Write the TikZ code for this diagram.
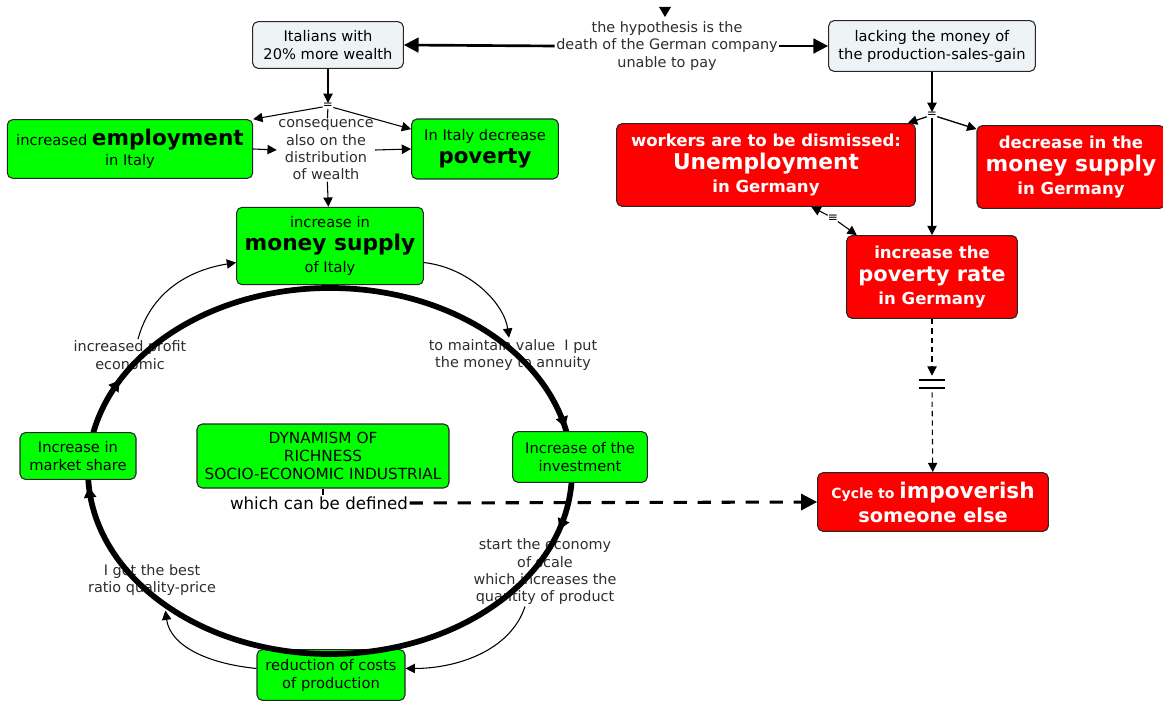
\documentclass[tikz,border=0pt]{standalone}
\usepackage{fontspec}
\setmainfont{DejaVu Sans}
\usetikzlibrary{arrows.meta,decorations.markings}
\definecolor{cmgreen}{RGB}{0,255,0}
\definecolor{cmred}{RGB}{255,0,0}
\definecolor{cmgrey}{RGB}{238,243,246}
\definecolor{cmtext}{RGB}{45,45,45}

\begin{document}
\begin{tikzpicture}[x=0.75pt,y=-0.75pt,>={Triangle[length=7pt,width=7pt]},ringtip/.tip={Triangle[length=8pt,width=9pt]}]
      \tikzstyle{box}=[draw=black!85,line width=0.8pt,rounded corners=4pt,align=center,inner sep=2pt,font=\fontsize{11}{13.5}\selectfont]
      \tikzstyle{greybox}=[box,fill=cmgrey]
      \tikzstyle{greenbox}=[box,fill=cmgreen]
      \tikzstyle{redbox}=[box,fill=cmred,text=white,font=\fontsize{12.4}{17.5}\selectfont\bfseries]
      \tikzstyle{lbl}=[align=center,text=cmtext,inner sep=1pt,font=\fontsize{10.8}{13}\selectfont]
      \tikzstyle{junc}=[inner sep=0pt,font=\fontsize{9}{9}\selectfont]
      \tikzstyle{link}=[->,line width=0.8pt]
      \tikzstyle{bigtip}=[-{Triangle[length=11pt,width=11pt]},line width=2pt]
      \useasboundingbox (0,0) rectangle (1163,702);
      % top row
      \node[greybox,minimum width=113pt,minimum height=35pt] (It_wealth) at (328,45) {Italians with\\20\% more wealth};
      \node[lbl] (Hyp) at (667,46) {the hypothesis is the\\death of the German company\\unable to pay};
      \node[greybox,minimum width=155pt,minimum height=38pt] (De_lack) at (932,46) {lacking the money of\\the production-sales-gain};
      \fill (659,7) -- (671,7) -- (665,17) -- cycle;
      \draw[bigtip] (Hyp.west) -- (It_wealth.east);
      \draw[bigtip] (Hyp.east) -- (De_lack.west);
      % Italy
      \node[junc] (It_eq) at (328,106) {=};
      \node[greenbox,minimum width=184pt,minimum height=44pt,font=\fontsize{11}{15}\selectfont] (It_employ) at (130,149) {increased {\fontsize{16.2}{17}\selectfont\bfseries employment}\\in Italy};
      \node[lbl] (It_conseq) at (326,150) {consequence\\also on the\\distribution\\of wealth};
      \node[greenbox,minimum width=110pt,minimum height=45pt,font=\fontsize{11}{17}\selectfont] (It_poverty) at (485,149) {In Italy decrease\\{\fontsize{16}{17}\selectfont\bfseries poverty}};
      \node[greenbox,minimum width=140pt,minimum height=58pt,font=\fontsize{11}{17}\selectfont] (It_money) at (330,246) {increase in\\{\fontsize{16.3}{18}\selectfont\bfseries money supply}\\of Italy};
      \draw[link] (It_wealth) -- (It_eq);
      \draw[link] (It_eq) -- (It_employ.north east);
      \draw[link] (It_eq) -- ([yshift=-8pt]It_poverty.north west);
      \draw[line width=0.8pt] (It_eq) -- (It_conseq);
      \draw[link] (It_employ.east) -- (It_conseq.west);
      \draw[link] (It_conseq.east) -- (It_poverty.west);
      \draw[link] (It_conseq) -- (It_money);
      % the cycle
      \node[greenbox,minimum width=111pt,minimum height=38pt] (It_reduce) at (331,675) {reduction of costs\\of production};
      \node[lbl] (Lb_profit) at (130,355) {increased profit\\economic};
      \node[lbl] (Lb_value) at (513,355) {to maintain value~ I put\\the money to annuity};
      \node[lbl] (Lb_scale) at (545,572) {start the economy\\of scale\\which increases the\\quantity of product};
      \node[lbl] (Lb_ratio) at (152,580) {I got the best\\ratio quality-price};
      \draw[line width=4.3pt,postaction={decorate},decoration={markings,
            mark=at position 0.045 with {\arrow{ringtip}},
            mark=at position 0.488 with {\arrow{ringtip}},
            mark=at position 0.573 with {\arrow{ringtip}},
            mark=at position 0.967 with {\arrow{ringtip}}}]
            (330,471) ellipse [x radius=242,y radius=183];
      \node[greenbox,minimum width=87pt,minimum height=35pt] (It_market) at (78,456) {Increase in\\market share};
      \node[greenbox,minimum width=101pt,minimum height=38pt] (It_invest) at (580,457) {Increase of the\\investment};
      \node[greenbox,minimum width=189pt,minimum height=48pt,font=\fontsize{11.5}{13.5}\selectfont] (Dyn) at (323,456) {DYNAMISM OF\\RICHNESS\\SOCIO-ECONOMIC INDUSTRIAL};
      \node[lbl,text=black,font=\fontsize{12.5}{14}\selectfont] (Lb_defined) at (319,503) {which can be defined};
      \draw[link] (It_money.-10) .. controls +(45,5) and +(-5,-35) .. ([xshift=-3pt]Lb_value.north);
      \draw[link] ([xshift=6pt]Lb_profit.north) .. controls +(12,-45) and +(-50,8) .. (It_money.190);
      \draw[link] ([xshift=-15pt]Lb_scale.south) .. controls +(-15,45) and +(50,0) .. (It_reduce.5);
      \draw[link] (It_reduce.175) .. controls +(-50,-5) and +(5,35) .. ([xshift=10pt,yshift=-10pt]Lb_ratio.south);
      \draw[line width=1.6pt] (Dyn.south) -- (Dyn.south |- Lb_defined.north);
      % Germany
      \node[junc] (De_eq) at (932,115) {=};
      \node[redbox,minimum width=224pt,minimum height=62pt] (De_workers) at (766,165) {workers are to be dismissed:\\{\fontsize{16.3}{19}\selectfont Unemployment}\\in Germany};
      \node[redbox,minimum width=141pt,minimum height=62pt] (De_money) at (1071,167) {decrease in the\\{\fontsize{16.3}{19}\selectfont money supply}\\in Germany};
      \node[redbox,minimum width=128pt,minimum height=62pt] (De_poverty) at (932,277) {increase the\\{\fontsize{15.7}{18}\selectfont poverty rate}\\in Germany};
      \node[junc] (De_eq2) at (833,218) {≡};
      \node[inner sep=0pt,minimum width=20pt,minimum height=12pt] (De_eq3) at (932,384) {};
      \node[redbox,minimum width=173pt,minimum height=44pt,font=\fontsize{10.5}{18}\selectfont\bfseries] (De_imp) at (933,502) {Cycle to {\fontsize{16.2}{18}\selectfont impoverish}\\{\fontsize{14.5}{17}\selectfont someone else}};
      \draw[link,line width=1pt] (De_lack) -- (De_eq);
      \draw[link,line width=1pt] (De_eq) -- ([xshift=-6pt]De_workers.north east);
      \draw[link,line width=1pt] (De_eq) -- ([yshift=-3pt]De_money.north west);
      \draw[link,line width=1pt] (De_eq) -- (De_poverty);
      \draw[link] (De_eq2) -- ([xshift=34pt]De_workers.south);
      \draw[link] (De_eq2) -- ([xshift=8pt]De_poverty.north west);
      \draw[line width=2.2pt] ([xshift=-10pt,yshift=3pt]De_eq3.center) -- ++(20pt,0);
      \draw[line width=2.2pt] ([xshift=-10pt,yshift=-3pt]De_eq3.center) -- ++(20pt,0);
      \draw[link,dash pattern=on 4pt off 3pt] (De_poverty) -- (De_eq3);
      \draw[link,dash pattern=on 4pt off 3pt] (De_eq3) -- (De_imp);
      \draw[-{Triangle[length=12pt,width=12pt]},line width=2.3pt,dash pattern=on 10pt off 8pt] (Lb_defined.east) -- (De_imp.west);
    \end{tikzpicture}
\end{document}
